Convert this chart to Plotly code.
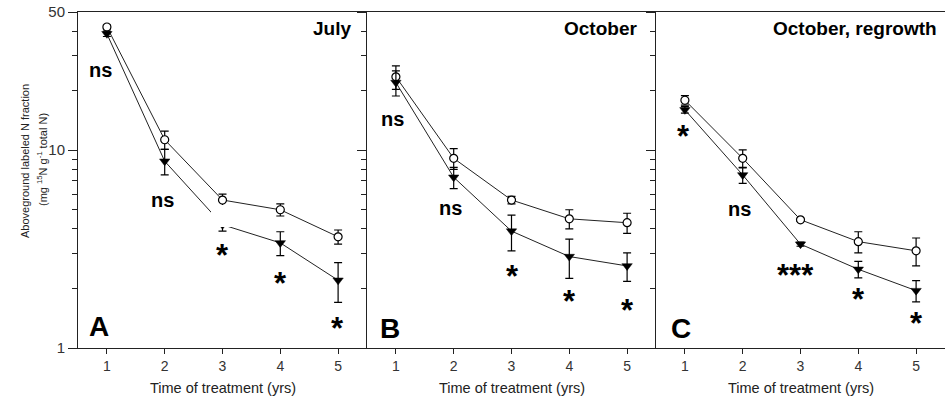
import math
import plotly.graph_objects as go
from plotly.subplots import make_subplots

years = [1, 2, 3, 4, 5]
panel_titles = ["July", "October", "October, regrowth"]
panel_letters = ["A", "B", "C"]

# Panel A - July
july_open = [42.0, 11.3, 5.6, 5.0, 3.65]
july_open_err = [1.0, 1.2, 0.4, 0.35, 0.3]
july_filled = [38.8, 8.8, 4.2, 3.4, 2.2]
july_filled_err = [1.2, 1.3, 0.3, 0.47, 0.5]
july_sig = ["ns", "ns", "*", "*", "*"]

# Panel B - October
oct_open = [23.5, 9.1, 5.6, 4.5, 4.3]
oct_open_err = [3.2, 1.1, 0.25, 0.5, 0.5]
oct_filled = [22.0, 7.3, 3.9, 2.9, 2.6]
oct_filled_err = [3.2, 0.9, 0.8, 0.65, 0.43]
oct_sig = ["ns", "ns", "*", "*", "*"]

# Panel C - October, regrowth
reg_open = [17.9, 9.1, 4.45, 3.45, 3.1]
reg_open_err = [1.0, 0.95, 0.08, 0.42, 0.5]
reg_filled = [16.0, 7.5, 3.35, 2.5, 1.95]
reg_filled_err = [0.6, 0.7, 0.08, 0.24, 0.24]
reg_sig = ["*", "ns", "***", "*", "*"]

y_tick_vals = [1, 10, 50]
y_minor_vals = [2, 3, 4, 5, 6, 7, 8, 9, 20, 30, 40]
x_title = "Time of treatment (yrs)"
y_title_1 = "Aboveground labeled N fraction"
y_title_2 = "(mg <sup>15</sup>N g<sup>-1</sup> total N)"

panels = [
    (july_open, july_open_err, july_filled, july_filled_err, july_sig),
    (oct_open, oct_open_err, oct_filled, oct_filled_err, oct_sig),
    (reg_open, reg_open_err, reg_filled, reg_filled_err, reg_sig),
]

W, H = 945, 406
ML, MR, MT, MB = 78, 0, 12, 58
PW = W - ML - MR
PH = H - MT - MB


def px(x):
    return (x - ML) / PW


def py(y):
    return (H - MB - y) / PH


FONT = "Liberation Sans, Arial, sans-serif"
LINE = "#222"

fig = make_subplots(rows=1, cols=3, horizontal_spacing=0)

for i, (o, oe, f, fe, sig) in enumerate(panels):
    col = i + 1
    fig.add_trace(go.Scatter(
        x=years, y=o, mode="lines+markers",
        line=dict(color=LINE, width=1),
        marker=dict(symbol="circle", size=8, color="white",
                    line=dict(color="black", width=1.2)),
        error_y=dict(type="data", array=oe, visible=True, color="black",
                     thickness=1.2, width=4),
        showlegend=False), row=1, col=col)
    fig.add_trace(go.Scatter(
        x=years, y=f, mode="lines+markers",
        line=dict(color=LINE, width=1),
        marker=dict(symbol="triangle-down", size=9, color="black",
                    line=dict(color="black", width=0.5)),
        error_y=dict(type="data", array=fe, visible=True, color="black",
                     thickness=1.2, width=4),
        showlegend=False), row=1, col=col)

for i in range(3):
    col = i + 1
    fig.update_xaxes(
        range=[0.5, 5.5], tickmode="array", tickvals=years,
        ticks="outside", ticklen=5, tickcolor=LINE, tickwidth=1,
        showline=True, linecolor=LINE, linewidth=1, mirror=True,
        showgrid=False, zeroline=False,
        tickfont=dict(family=FONT, size=14, color="#333"),
        row=1, col=col)
    fig.update_yaxes(
        type="log", range=[0, math.log10(50)],
        tickmode="array", tickvals=y_tick_vals,
        ticktext=[str(v) for v in y_tick_vals],
        showticklabels=(i == 0),
        ticks="outside", ticklen=9, tickcolor=LINE, tickwidth=1,
        minor=dict(tickmode="array", tickvals=y_minor_vals, ticks="outside",
                   ticklen=5, tickcolor=LINE, showgrid=False),
        showline=True, linecolor=LINE, linewidth=1, mirror=False,
        showgrid=False, zeroline=False,
        tickfont=dict(family=FONT, size=15, color="#333"),
        row=1, col=col)

ann = []


def add_text(text, x, y, size, bold=True, xanchor="center", angle=0, color="black"):
    t = f"<b>{text}</b>" if bold else text
    ann.append(dict(text=t, x=px(x), y=py(y), xref="paper", yref="paper",
                    showarrow=False, xanchor=xanchor, yanchor="middle",
                    textangle=angle,
                    font=dict(family=FONT, size=size, color=color)))


# significance label positions (pixels)
sig_pos = [
    [(100, 70), (162, 200), (222, 249), (280, 277), (337, 322)],
    [(392, 119), (450, 208), (512, 270), (569, 295), (627, 304)],
    [(683, 130), (739, 209), (795, 269), (858, 293), (916, 317)],
]
for i, (o, oe, f, fe, sig) in enumerate(panels):
    for s, (sx, sy) in zip(sig, sig_pos[i]):
        if "*" in s:
            add_text(s, sx, sy + 6, 31)
        else:
            add_text(s, sx, sy, 20)

letter_pos = [(99, 326), (390, 328), (681, 328)]
for L, (lx, ly) in zip(panel_letters, letter_pos):
    add_text(L, lx, ly, 28)

title_right = [353, 639, 939]
for t, rx in zip(panel_titles, title_right):
    add_text(t, rx, 28, 19, xanchor="right")

for cx in [222.5, 511.5, 800.5]:
    add_text(x_title, cx, 388, 14.5, bold=False, color="#222")

add_text(y_title_1, 25, 161, 11, bold=False, angle=-90, color="#222")
add_text(y_title_2, 42, 160, 11, bold=False, angle=-90, color="#222")

fig.update_layout(
    width=W, height=H,
    margin=dict(l=ML, r=MR, t=MT, b=MB),
    paper_bgcolor="white", plot_bgcolor="white",
    annotations=ann,
    shapes=[dict(type="rect", xref="paper", yref="paper",
                 x0=px(211), x1=px(234), y0=py(227), y1=py(205),
                 fillcolor="white", line=dict(width=0), layer="above")],
)

fig.write_html("out.html")
